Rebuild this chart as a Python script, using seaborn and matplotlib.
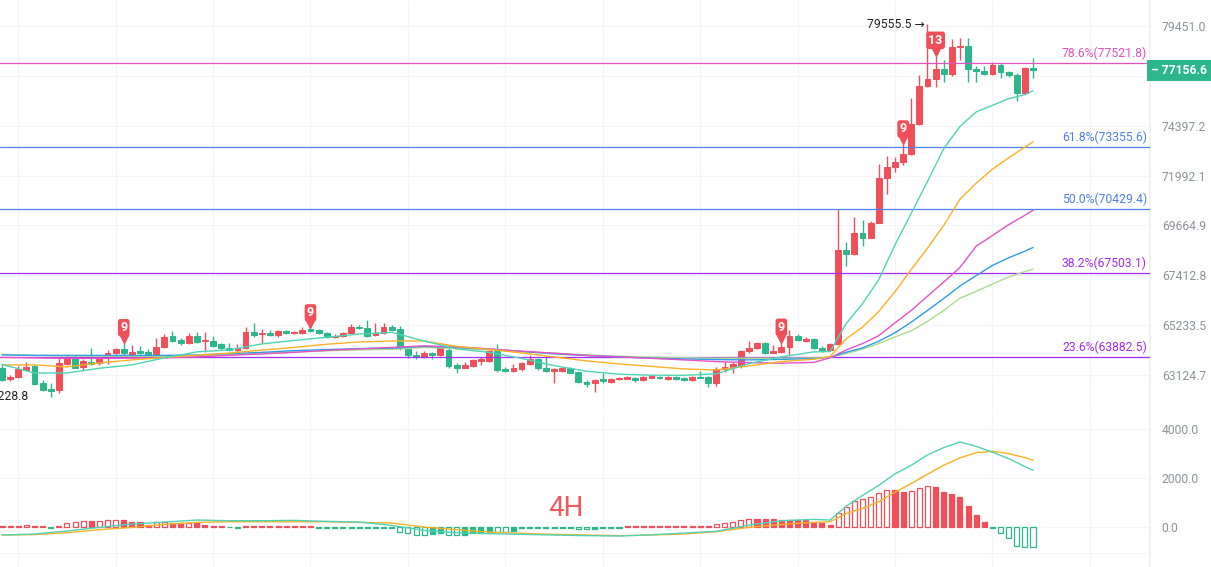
import matplotlib.pyplot as plt
import matplotlib.transforms as mtransforms
import numpy as np
import pandas as pd
import seaborn as sns

# 4H candles (index 0 = leftmost, partly cut)
opens = [63433, 62947, 63030, 63336, 63517, 62782, 62547, 62506, 63589, 63829,
         63450, 63686, 63618, 63829, 64040, 64209, 64023, 64150, 64107, 63968,
         64293, 64769, 64601, 64461, 64769, 64537, 64558, 64419, 64251, 64179,
         64251, 64925, 64841, 64908, 64811, 64980, 64883, 64883, 65064, 65022,
         64883, 64714, 64769, 64883, 65161, 65094, 64811, 64883, 65136, 65064,
         64200, 63968, 63871, 64065, 63968, 64179, 63547, 63433, 63505, 63715,
         63728, 64137, 63378, 63306, 63378, 63576, 63787, 63408, 63306, 63294,
         63433, 63239, 62848, 62782, 62947, 62848, 62947, 62972, 62989, 62918,
         63013, 63055, 62960, 63055, 62989, 62918, 63055, 63030, 62782, 63365,
         63450, 63517, 64137, 64251, 64487, 64065, 64082, 64318, 64782, 64558,
         64643, 64251, 64179, 64430, 68553, 68360, 69305, 69111, 69793, 71885,
         72411, 72651, 73002, 74496, 76346, 76728, 77237, 76964, 78333, 78421,
         77252, 77134, 76964, 77443, 77067, 76927, 76019, 77273]
highs = [63547, 63125, 63517, 63686, 63547, 62918, 62782, 63897, 63939, 63968,
         63800, 64251, 63939, 64179, 64251, 64461, 64390, 64360, 64221, 64672,
         64841, 64993, 64672, 64883, 64951, 64951, 64769, 64487, 64487, 64419,
         65161, 65307, 65064, 65022, 65022, 65022, 64980, 65136, 65094, 65064,
         64951, 64841, 64951, 65263, 65233, 65450, 65333, 65307, 65233, 65191,
         64251, 64150, 64150, 64107, 64390, 64390, 63618, 63686, 63800, 63897,
         64179, 64419, 63475, 63576, 63686, 63968, 63829, 63926, 63408, 63475,
         63475, 63294, 62918, 62960, 63197, 63013, 63055, 63071, 63030, 63070,
         63113, 63084, 63084, 63084, 63030, 63084, 63306, 63084, 63450, 63686,
         63686, 64179, 64571, 64529, 64529, 64390, 64480, 65022, 64841, 64740,
         64672, 64360, 64461, 70430, 68887, 70072, 69913, 69853, 72521, 72920,
         72858, 73483, 75771, 76927, 79555.5, 77906, 77700, 78766, 78818, 78818,
         77391, 77391, 77612, 77530, 77134, 77046, 77355, 77788]
lows = [62877, 62877, 62989, 63294, 62712, 62464, 62228.8, 62369, 63547, 63408,
        63336, 63547, 63547, 63576, 63998, 63968, 63939, 63998, 63968, 63897,
        64251, 64529, 64390, 64419, 64461, 64107, 64318, 64179, 64150, 64107,
        64221, 64740, 64461, 64769, 64740, 64853, 64853, 64853, 64951, 64853,
        64672, 64672, 64740, 64841, 65064, 64740, 64769, 64853, 64980, 64179,
        63829, 63787, 63829, 63787, 63939, 63408, 63197, 63408, 63475, 63547,
        63686, 63264, 63264, 63264, 63306, 63547, 63336, 63264, 62782, 63264,
        63197, 62782, 62642, 62435, 62782, 62782, 62918, 62939, 62848, 62890,
        62989, 62960, 62930, 62918, 62877, 62890, 62989, 62642, 62683, 63264,
        63222, 63408, 64040, 64209, 63998, 64040, 64040, 63968, 64558, 64504,
        64209, 64107, 64150, 64380, 67833, 68330, 68706, 69100, 69780, 71108,
        72170, 72473, 72990, 74447, 76300, 76300, 76594, 76877, 77700, 76565,
        76560, 76912, 76927, 76793, 76842, 75637, 75985, 76763]
closes = [62918, 63055, 63378, 63475, 62753, 62506, 62477, 63618, 63829, 63433,
          63715, 63589, 63871, 64065, 64209, 64065, 64107, 64065, 63998, 64293,
          64740, 64571, 64461, 64769, 64529, 64601, 64360, 64276, 64179, 64251,
          64925, 64811, 64908, 64811, 64980, 64883, 64938, 65022, 64993, 64883,
          64714, 64769, 64908, 65161, 65094, 64782, 64908, 65161, 65022, 64251,
          63947, 63897, 64065, 63968, 64251, 63517, 63433, 63547, 63757, 63800,
          64137, 63336, 63294, 63433, 63618, 63787, 63408, 63294, 63378, 63433,
          63222, 62823, 62766, 62918, 62865, 62960, 63013, 63030, 62918, 63055,
          63084, 62989, 63055, 62960, 62918, 63055, 63013, 62807, 63365, 63475,
          63576, 64137, 64276, 64487, 64040, 64137, 64318, 64769, 64601, 64643,
          64251, 64179, 64432, 68553, 68360, 69305, 69111, 69793, 71885, 72411,
          72651, 73002, 74496, 76346, 76728, 77237, 76964, 78333, 78421, 77237,
          77118, 76964, 77443, 77067, 76927, 76019, 77273, 77156.6]

# moving averages at these candle indices
ma_idx = list(range(0, 101, 4)) + list(range(102, 127, 2)) + [127]
ma_teal = [63568, 63209, 63209, 63407, 63547, 63842, 64095, 64179, 64432, 64580,
           64714, 64854, 64925, 64558, 64221, 64074, 63821, 63517, 63281, 63159,
           63117, 63113, 63176, 63601, 63884, 64095, 64107, 65308, 66167, 67222,
           68779, 70225, 71713, 73276, 74363, 75077, 75404, 75736, 75935, 76133]
ma_orange = [63547, 63547, 63462, 63631, 63757, 63854, 63956, 64044, 64171, 64284,
             64419, 64516, 64558, 64558, 64327, 64200, 64053, 63884, 63715, 63589,
             63483, 63378, 63336, 63505, 63686, 63787, 63897, 64655, 65149, 65824,
             66688, 67672, 68630, 69665, 70876, 71634, 72295, 72843, 73353, 73613]
ma_pink = [63863, 63842, 63821, 63821, 63829, 63842, 63884, 63947, 64010, 64074,
           64158, 64221, 64284, 64348, 64305, 64221, 64124, 64040, 63947, 63884,
           63821, 63757, 63686, 63644, 63618, 63652, 63842, 64179, 64445, 64782,
           65333, 65869, 66492, 67115, 67762, 68720, 69201, 69700, 70132, 70364]
ma_blue = [63968, 63947, 63947, 63947, 63947, 63947, 63968, 64019, 64074, 64149,
           64192, 64234, 64251, 64327, 64284, 64209, 64116, 64010, 63939, 63884,
           63829, 63800, 63770, 63757, 63779, 63812, 63863, 64082, 64263, 64546,
           64908, 65363, 65869, 66390, 66937, 67400, 67852, 68194, 68495, 68661]
ma_lime = [63989, 63947, 63926, 63913, 63905, 63897, 63926, 63968, 64031, 64095,
           64137, 64179, 64200, 64284, 64242, 64179, 64103, 64040, 63968, 63913,
           63871, 63850, 63829, 63829, 63829, 63842, 63863, 64023, 64209, 64445,
           64727, 64993, 65394, 65869, 66403, 66701, 67026, 67337, 67582, 67685]

# fibonacci retracement levels
fib_levels = [77521.8, 73355.6, 70429.4, 67503.1, 63882.5]
fib_labels = ["78.6%(77521.8)", "61.8%(73355.6)", "50.0%(70429.4)",
              "38.2%(67503.1)", "23.6%(63882.5)"]

price_ticks = [79451.0, 76876.9, 74397.2, 71992.1, 69664.9, 67412.8, 65233.5, 63124.7]
price_tick_labels = ["79451.0", "", "74397.2", "71992.1", "69664.9", "67412.8",
                     "65233.5", "63124.7"]

# TD-sequential style counters
mark_idx = [15, 38, 96, 111, 115]
mark_labels = ["9", "9", "9", "9", "13"]

# MACD
macd_hist = [25, 25, 25, 60, 25, 25, -40, 25, 135, 200,
             230, 230, 240, 270, 275, 270, 200, 195, 68, 176,
             200, 160, 155, 165, 135, 68, 30, 10, -25, -50,
             15, 25, 25, 25, 25, 25, 25, 25, 20, -40,
             -60, -50, -50, -50, -50, -60, -60, -50, -50, -200,
             -270, -340, -345, -300, -270, -340, -345, -340, -270, -240,
             -200, -205, -210, -175, -68, -60, -60, -60, -60, -60,
             -60, -100, -105, -100, -60, -60, -60, 27, 27, 27,
             27, 27, 27, 27, 27, 27, 27, 27, 95, 163,
             203, 271, 330, 320, 312, 298, 285, 283, 280, 270,
             163, 136, 68, 542, 786, 1058, 1112, 1193, 1383, 1492,
             1492, 1424, 1464, 1600, 1654, 1627, 1424, 1329, 1220, 841,
             475, 203, -68, -271, -475, -787, -814, -841]
macd_idx = list(range(0, 101, 4)) + list(range(102, 127, 2)) + [127]
macd_dif = [-339, -298, -176, -27, 108, 190, 271, 244, 244, 258,
            217, 190, 54, -149, -244, -285, -312, -339, -366, -380,
            -330, -260, -190, 68, 244, 298, 271, 840, 1275, 1687,
            2156, 2509, 2929, 3227, 3458, 3282, 3037, 2780, 2454, 2305]
macd_dea = [-339, -325, -244, -122, -27, 95, 176, 203, 203, 203,
            203, 176, 149, -14, -122, -217, -271, -312, -339, -366,
            -339, -298, -203, -27, 95, 176, 203, 542, 746, 1017,
            1410, 1763, 2142, 2509, 2807, 3024, 3078, 2983, 2820, 2712]
macd_ticks = [0, 2000, 4000]

RED = "#f04f5a"
GREEN = "#2bb68b"
TEAL = "#4fd3b5"
ORANGE = "#fbb125"
PINK = "#e852c6"
BLUE = "#2f9de8"
LIME = "#abdc8c"
FIB_COLORS = ["#e052bd", "#4f80e8", "#4f80e8", "#a32cf0", "#a32cf0"]
AXIS_TXT = "#8e929a"
GRID = "#f3f4f6"

sns.set_theme(style="white")
plt.rcParams["font.family"] = ["Roboto", "DejaVu Sans"]

W, H = 1211, 567
fig = plt.figure(figsize=(W / 100, H / 100), dpi=100)
ax = fig.add_axes([0, 1 - 410 / H, 1150 / W, 410 / H])
ax2 = fig.add_axes([0, 0, 1150 / W, 155 / H])

o = np.array(opens, dtype=float)
c = np.array(closes, dtype=float)
idx = np.arange(len(o))
cols = np.where(c >= o, RED, GREEN)

ax.set_yscale("log")
ax.vlines(idx, lows, highs, colors=cols, linewidth=1.0, zorder=3)
ax.bar(idx, np.abs(c - o), bottom=np.minimum(o, c), width=0.72,
       color=cols, edgecolor=cols, linewidth=0.7, zorder=3)

for lvl, lab, fc in zip(fib_levels, fib_labels, FIB_COLORS):
    ax.axhline(lvl, color=fc, linewidth=0.9, zorder=4)
    ax.annotate(lab, xy=(1, lvl), xycoords=("axes fraction", "data"),
                xytext=(-3, 3), textcoords="offset pixels", ha="right", va="bottom",
                color=fc, fontsize=8.7)

ma = pd.DataFrame({"idx": ma_idx, "teal": ma_teal, "orange": ma_orange,
                   "pink": ma_pink, "blue": ma_blue, "lime": ma_lime})
for name, colr in [("lime", LIME), ("blue", BLUE), ("pink", PINK),
                   ("orange", ORANGE), ("teal", TEAL)]:
    sns.lineplot(data=ma, x="idx", y=name, ax=ax, color=colr, linewidth=1.0, zorder=5)

# counter flags above candles
lift = mtransforms.ScaledTranslation(0, 4 / 100, fig.dpi_scale_trans)
for i, lab in zip(mark_idx, mark_labels):
    ax.plot([i], [highs[i]], marker="v", markersize=5.5, color=RED,
            transform=ax.transData + lift, zorder=6)
    ax.annotate(lab, xy=(i, highs[i]), xytext=(0, 9), textcoords="offset pixels",
                ha="center", va="bottom", color="white", fontsize=9, fontweight="bold",
                bbox=dict(boxstyle="round,pad=0.18,rounding_size=0.2", fc=RED, ec="none"),
                zorder=7)

hi_i = int(np.argmax(highs))
lo_i = int(np.argmin(lows))
ax.text(hi_i - 0.4, highs[hi_i], "79555.5 →", ha="right", va="center",
        fontsize=8.7, color="#222222")
ax.text(3.2, lows[lo_i], "62228.8", ha="right", va="center",
        fontsize=8.7, color="#222222")

ax.annotate("– 77156.6", xy=(1, closes[-1]), xycoords=("axes fraction", "data"),
            xytext=(1, 0), textcoords="offset pixels", ha="left", va="center",
            color="white", fontsize=8.7, fontweight="bold", annotation_clip=False,
            bbox=dict(boxstyle="square,pad=0.3", fc=GREEN, ec="none"), zorder=8)

ax.set_ylim(61686, 80824)
ax.yaxis.tick_right()
ax.set_yticks(price_ticks)
ax.set_yticklabels(price_tick_labels)
ax.yaxis.set_minor_locator(plt.NullLocator())

# MACD panel
hist = np.array(macd_hist, dtype=float)
prev = np.concatenate([[0.0], np.abs(hist[:-1])])
hcol = np.where(hist >= 0, RED, GREEN)
hface = np.where(np.abs(hist) > prev, "white", hcol)
ax2.bar(idx, hist, width=0.62, color=hface, edgecolor=hcol, linewidth=0.9, zorder=3)
md = pd.DataFrame({"idx": macd_idx, "dif": macd_dif, "dea": macd_dea})
sns.lineplot(data=md, x="idx", y="dea", ax=ax2, color=ORANGE, linewidth=1.0, zorder=4)
sns.lineplot(data=md, x="idx", y="dif", ax=ax2, color=TEAL, linewidth=1.0, zorder=4)
ax2.axhline(-1060, color=GRID, linewidth=0.8, zorder=0)
ax2.set_ylim(-1645, 4682)
ax2.yaxis.tick_right()
ax2.set_yticks(macd_ticks)
ax2.set_yticklabels([f"{t:.1f}" for t in macd_ticks])
ax2.text(0.4765, 0.38, "4H", transform=ax2.transAxes, fontsize=20,
         color="#f2595c", ha="left", va="center")

grid_x = np.arange(2, 142, 12)
for a in (ax, ax2):
    a.set_xlim(-0.246, 141.41)
    a.set_xticks(grid_x)
    a.set_xticklabels([])
    a.set_xlabel("")
    a.set_ylabel("")
    a.tick_params(axis="x", length=0)
    a.tick_params(axis="y", length=0, pad=8.5, labelsize=8.7, labelcolor=AXIS_TXT)
    a.grid(True, color=GRID, linewidth=0.8)
    a.set_axisbelow(True)
    for s in a.spines.values():
        s.set_visible(False)
    a.spines["right"].set_visible(True)
    a.spines["right"].set_color("#eeeff1")
    a.set_facecolor("white")

fig.savefig("out.png", dpi=100, facecolor="white")
